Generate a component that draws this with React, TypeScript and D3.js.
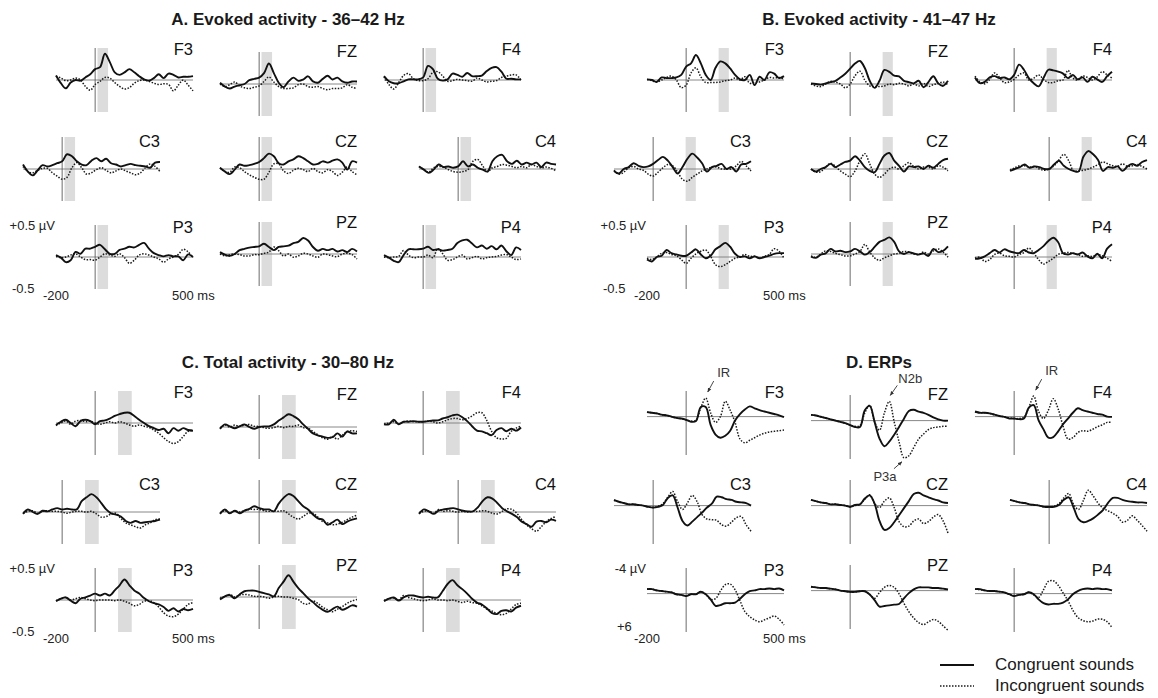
import * as d3 from 'd3';
import React from 'react';

// time axis (ms) shared by every trace
const TIMES = [-200, -175, -150, -125, -100, -75, -50, -25, 0, 25, 50, 75, 100, 125, 150, 175, 200, 225, 250, 275, 300, 325, 350, 375, 400, 425, 450, 475, 500];

// A. Evoked activity 36-42 Hz (µV)
const A_F3_con = [0.07, -0.05, -0.13, -0.04, 0, -0.01, 0.04, 0.09, 0.17, 0.2, 0.41, 0.28, 0.12, 0.08, 0.12, 0.17, 0.12, 0.06, 0.01, -0.01, 0.03, 0.09, 0.03, 0.1, 0.08, 0.04, 0.05, 0.05, 0.06];
const A_F3_inc = [0.06, 0.03, -0.01, 0, 0.03, 0, -0.1, -0.16, -0.07, -0.02, 0.04, 0.03, -0.04, -0.1, -0.14, -0.12, -0.05, -0.01, 0, -0.02, -0.05, -0.07, -0.06, -0.07, -0.17, -0.08, 0, -0.08, -0.17];
const A_FZ_con = [0.02, -0.04, -0.07, -0.04, -0.02, 0, 0.06, 0.08, 0.1, 0.17, 0.32, 0.17, 0.02, -0.05, 0.04, 0.1, 0.05, 0.07, 0.12, 0.04, 0.02, 0.08, 0.13, 0.07, 0.1, 0.04, 0.02, 0.04, 0.04];
const A_FZ_inc = [0, -0.04, -0.01, 0.03, -0.03, -0.06, -0.07, -0.05, -0.03, 0.04, 0.11, 0.03, -0.04, -0.07, -0.07, -0.06, -0.01, 0, -0.04, -0.05, -0.04, -0.07, -0.09, -0.07, -0.07, -0.06, -0.01, -0.05, -0.07];
const A_F4_con = [0.06, -0.02, -0.05, -0.05, -0.02, 0.01, 0.01, 0.01, 0.04, 0.22, 0.17, 0.02, -0.01, 0.01, 0.1, 0.08, 0.05, 0.11, 0.06, 0.06, 0.07, 0.14, 0.19, 0.2, 0.13, 0.02, 0.02, 0.01, 0.01];
const A_F4_inc = [0.05, -0.07, -0.14, -0.04, 0.07, 0.1, 0.02, -0.01, -0.01, 0.02, 0.12, 0.13, 0.06, -0.02, -0.01, 0.01, 0, -0.01, -0.02, 0.03, 0, -0.03, -0.02, -0.01, 0.04, 0.06, 0.08, 0.08, 0];
const A_C3_con = [0.07, -0.04, -0.1, -0.02, 0.06, 0.04, 0.06, 0.09, 0.12, 0.23, 0.2, 0.12, 0.07, 0.06, 0.13, 0.17, 0.12, 0.16, 0.09, 0.07, 0.04, 0.06, 0.08, 0.06, 0.05, 0.04, 0.02, 0.1, 0.11];
const A_C3_inc = [0.04, -0.04, -0.06, -0.02, 0.01, 0.01, -0.06, -0.11, -0.16, -0.13, 0.02, 0.1, 0.02, -0.08, -0.06, -0.01, 0.02, -0.02, -0.06, -0.03, 0, -0.03, -0.06, -0.09, -0.06, 0.02, 0.08, 0.04, -0.04];
const A_CZ_con = [0.02, -0.04, -0.08, -0.01, 0.07, 0.05, 0.06, 0.08, 0.11, 0.17, 0.24, 0.2, 0.09, 0.07, 0.12, 0.15, 0.2, 0.17, 0.12, 0.07, 0.08, 0.12, 0.1, 0.13, 0.15, 0.1, -0.01, 0.12, 0.1];
const A_CZ_inc = [0.02, -0.04, -0.05, 0.03, 0.02, -0.04, -0.09, -0.13, -0.16, -0.16, -0.05, 0.08, 0.08, -0.03, -0.07, -0.02, 0.01, -0.01, -0.04, 0.01, -0.04, -0.06, -0.01, -0.04, -0.1, -0.05, 0.03, -0.04, -0.09];
const A_C4_con = [0.04, -0.01, -0.06, -0.01, 0.07, 0.03, 0.04, 0.02, 0.04, 0.12, 0.04, 0.07, 0.02, -0.01, -0.04, 0.12, 0.2, 0.22, 0.12, 0.08, 0.13, 0.07, 0.1, 0.07, 0.1, 0.03, 0.1, 0.08, 0.07];
const A_C4_inc = [0.04, -0.01, -0.05, 0.02, 0.04, 0.03, -0.01, -0.04, -0.05, -0.04, -0.01, 0.12, 0.15, 0.05, -0.04, 0.02, 0.04, 0.07, 0.06, 0.04, 0.02, 0.04, 0.02, 0.07, 0.04, 0.02, 0.03, 0.01, -0.03];
const A_P3_con = [0.03, -0.01, -0.08, -0.05, 0.08, 0.05, 0.13, 0.13, 0.16, 0.19, 0.12, 0.05, 0.05, 0.11, 0.13, 0.16, 0.15, 0.19, 0.22, 0.13, 0.06, 0.03, 0.01, 0.03, 0.01, 0.01, -0.05, 0.04, 0];
const A_P3_inc = [0.01, -0.01, 0, 0.03, 0.05, 0, -0.04, -0.04, -0.05, 0, 0.05, 0.03, 0.01, 0.05, -0.01, -0.1, -0.05, 0.03, 0.05, 0.03, 0, -0.03, -0.08, -0.03, 0, 0.04, 0.12, 0.08, -0.01];
const A_PZ_con = [0.03, -0.01, -0.03, 0, 0.06, 0.08, 0.1, 0.11, 0.12, 0.16, 0.11, 0.06, 0.11, 0.12, 0.13, 0.17, 0.19, 0.25, 0.21, 0.11, 0.05, 0.08, 0.06, 0.08, 0.04, 0.06, 0.03, 0.08, 0.04];
const A_PZ_inc = [0, -0.03, -0.01, 0, -0.01, -0.03, -0.03, -0.01, -0.01, 0.01, 0.03, 0.11, 0.05, -0.03, 0, -0.05, -0.03, 0.01, 0, -0.03, -0.05, 0, -0.01, -0.03, -0.04, 0, 0.01, -0.01, -0.08];
const A_P4_con = [0.03, -0.01, -0.06, -0.08, 0.03, 0.12, 0.12, 0.12, 0.13, 0.16, 0.11, 0.12, 0.1, 0.11, 0.13, 0.22, 0.26, 0.27, 0.21, 0.15, 0.18, 0.13, 0.17, 0.12, 0.18, 0.09, 0.03, 0.15, 0.11];
const A_P4_inc = [0, -0.01, 0, 0.01, 0.1, 0.03, -0.01, 0, 0, 0.03, -0.01, 0.13, 0.05, -0.05, -0.04, 0, 0.03, -0.03, -0.01, 0.01, -0.03, -0.01, 0, 0.01, 0.03, 0.04, 0, -0.04, -0.03];

// B. Evoked activity 41-47 Hz (µV)
const B_F3_con = [0.01, 0, -0.03, 0.04, 0.03, 0.03, 0.04, 0.08, 0.21, 0.26, 0.39, 0.26, 0.08, 0, 0.19, 0.29, 0.26, 0.18, 0.08, 0.01, 0, 0.08, -0.08, 0.05, 0, 0.12, 0.1, 0.03, 0.06];
const B_F3_inc = [0.01, -0.01, -0.03, 0, 0.04, 0.06, 0, -0.12, -0.08, 0.11, 0.19, 0.05, -0.04, -0.04, -0.04, -0.03, -0.01, 0, 0.03, 0, 0.05, -0.05, -0.04, -0.03, 0, 0.04, 0.03, 0.04, 0.01];
const B_FZ_con = [0.01, 0, -0.01, 0.01, 0.03, 0.05, 0.1, 0.16, 0.24, 0.32, 0.36, 0.25, 0.05, -0.06, 0.05, 0.22, 0.19, 0.13, 0.12, 0.05, 0.03, 0.01, 0.05, -0.05, 0.03, 0.12, 0.01, -0.03, 0.05];
const B_FZ_inc = [0, -0.03, -0.04, 0, 0.04, 0.03, 0, -0.06, 0, 0.13, 0.2, 0.06, -0.03, -0.04, -0.04, -0.03, 0, -0.01, 0.01, 0, -0.03, 0, -0.03, 0.01, -0.04, -0.01, 0.01, 0.03, -0.01];
const B_F4_con = [0.04, -0.05, -0.03, 0.04, 0.06, 0.03, 0.04, 0.01, 0.08, 0.24, 0.16, 0.03, -0.05, -0.1, 0.03, 0.16, 0.15, 0.13, 0.1, 0.03, 0.08, 0.01, 0.04, -0.03, 0.05, 0.01, -0.03, 0.06, 0.13];
const B_F4_inc = [0.06, -0.03, -0.06, 0.01, 0.11, 0.04, -0.04, -0.03, 0.01, 0.08, 0.11, 0, 0.03, 0.08, 0.01, -0.04, -0.04, -0.01, 0, 0.15, 0.03, 0, 0.06, 0.04, 0, 0.05, 0.13, 0.08, 0.03];
const B_C3_con = [-0.03, -0.07, 0, 0.03, 0.09, 0.05, 0.03, 0.04, 0.08, 0.14, 0.19, 0.13, 0.03, -0.07, 0.03, 0.16, 0.24, 0.18, 0.09, -0.04, 0.03, 0.05, 0.08, 0, 0.03, -0.04, 0.07, 0.08, 0.12];
const B_C3_inc = [-0.02, -0.08, -0.05, 0.02, 0.04, 0, -0.02, -0.08, -0.11, -0.05, 0.02, 0.07, 0.05, -0.05, -0.16, -0.19, -0.13, -0.08, -0.03, 0, 0.03, 0.03, 0, 0, 0, 0.05, 0.12, 0.05, -0.03];
const B_CZ_con = [0, -0.04, 0, 0.03, 0.08, 0.03, 0.07, 0.11, 0.13, 0.2, 0.13, 0.03, -0.03, -0.05, 0.08, 0.21, 0.25, 0.13, 0.05, -0.04, 0.04, 0.03, 0.04, 0, 0.05, 0.02, 0.08, 0.14, 0.16];
const B_CZ_inc = [0, -0.05, -0.04, 0.03, 0.09, 0.04, -0.03, -0.08, -0.12, -0.03, 0.13, 0.24, 0.08, -0.08, -0.13, -0.08, 0, 0.03, 0, 0.05, 0.1, 0.04, 0, 0.03, 0.03, 0, 0.05, 0.03, -0.03];
const B_C4_con = [-0.03, 0, 0.03, 0.07, 0.02, 0.04, 0.03, 0, 0, 0.07, 0.13, 0.05, 0, -0.03, -0.04, 0.19, 0.28, 0.23, 0.14, -0.03, 0.03, 0.02, 0.04, -0.03, 0.04, 0.08, 0.05, 0.11, 0.14];
const B_C4_inc = [-0.02, 0.02, 0.05, 0.05, 0.03, 0.04, 0, -0.02, 0, 0.05, 0.14, 0.23, 0.13, -0.03, -0.03, -0.02, 0, 0.03, 0.07, 0.11, 0.08, 0.05, 0.04, 0.08, 0.04, 0.05, 0.07, 0.04, 0];
const B_P3_con = [-0.04, -0.07, 0, 0.02, 0.11, 0.06, 0.04, 0.02, 0.02, 0.07, 0.12, 0.04, -0.02, 0.02, 0.12, 0.17, 0.22, 0.16, 0.05, 0, 0.01, -0.02, 0.01, -0.02, 0, 0.02, 0.05, 0.06, 0.06];
const B_P3_inc = [-0.02, -0.04, 0, 0.06, 0.07, 0.04, 0.02, -0.04, -0.1, -0.02, 0.05, 0.09, 0.11, 0.01, -0.12, -0.15, -0.12, -0.07, -0.02, 0, 0.04, 0.01, 0.01, -0.02, 0.01, 0.04, 0.13, 0.09, -0.02];
const B_PZ_con = [-0.04, -0.06, -0.01, 0.01, 0.08, 0.04, 0.05, 0.03, 0.04, 0.08, 0.04, -0.01, 0.03, 0.11, 0.19, 0.22, 0.26, 0.19, 0.04, 0, 0.03, 0.01, -0.01, 0.01, -0.03, 0.08, 0.03, 0.05, 0.12];
const B_PZ_inc = [-0.03, -0.05, 0, 0.05, 0.04, 0.01, -0.01, -0.03, -0.03, 0, 0.04, 0.15, 0.03, -0.06, -0.1, -0.06, -0.03, 0, 0.01, 0.04, 0.03, 0, -0.01, 0.03, 0, 0.05, 0.08, 0.03, -0.05];
const B_P4_con = [-0.03, -0.02, 0.01, 0.06, 0.11, 0.07, 0.12, 0.09, 0.07, 0.06, 0.11, 0.07, 0.06, 0.11, 0.17, 0.25, 0.3, 0.23, 0.06, 0.04, 0.06, 0.04, 0.07, 0.01, -0.02, 0.05, -0.02, 0.13, 0.2];
const B_P4_inc = [-0.02, 0, -0.07, -0.04, 0.04, 0.06, 0.02, 0.01, 0, 0.04, 0.07, 0.14, 0.06, -0.04, -0.11, -0.07, -0.02, 0.04, 0.06, 0.07, 0.06, 0.04, 0.01, 0.02, 0.01, 0.04, 0.02, -0.02, -0.07];

// C. Total activity 30-80 Hz (µV)
const C_F3_con = [-0.03, 0.02, 0.05, 0, -0.05, 0.03, 0.05, 0.03, -0.02, 0.03, 0.04, 0.07, 0.11, 0.14, 0.16, 0.16, 0.11, 0.05, 0, -0.05, -0.08, -0.11, -0.09, -0.16, -0.08, -0.12, -0.08, -0.11, -0.12];
const C_F3_inc = [-0.04, 0, 0.03, -0.02, 0.03, 0.04, 0.02, 0.03, 0, -0.02, 0, 0.02, 0, 0.02, 0, -0.03, -0.05, -0.03, -0.05, -0.07, -0.11, -0.16, -0.23, -0.29, -0.32, -0.29, -0.21, -0.13, -0.11];
const C_FZ_con = [-0.03, 0.04, 0.01, -0.02, 0.01, 0.04, 0, -0.03, 0, 0.01, 0.01, 0.04, 0.1, 0.15, 0.2, 0.17, 0.12, 0.04, -0.03, -0.1, -0.13, -0.15, -0.17, -0.16, -0.1, -0.15, -0.07, -0.1, -0.1];
const C_FZ_inc = [-0.02, 0.03, 0, 0.03, 0.01, 0.03, 0.04, 0.01, 0.01, -0.01, -0.02, -0.01, 0.01, -0.01, 0.01, 0.01, 0.03, -0.01, -0.02, -0.07, -0.12, -0.17, -0.19, -0.15, -0.19, -0.13, -0.07, -0.06, -0.07];
const C_F4_con = [-0.02, -0.02, 0.05, -0.02, 0.02, 0.02, 0.03, 0.02, 0.02, 0.03, 0.04, 0.04, 0.07, 0.09, 0.12, 0.13, 0.09, 0.03, -0.05, -0.12, -0.13, -0.16, -0.19, -0.11, -0.08, -0.13, -0.09, -0.12, -0.07];
const C_F4_inc = [-0.02, 0, 0.02, -0.02, 0.02, 0.03, 0.02, 0.02, 0.02, 0.03, 0.02, 0, 0.02, 0.05, 0.07, 0.07, 0.05, 0.07, 0.11, 0.16, 0.16, 0.04, -0.13, -0.23, -0.25, -0.24, -0.13, -0.08, -0.05];
const C_C3_con = [-0.03, 0.04, 0, -0.03, 0.02, 0.01, 0.04, 0.06, 0.04, 0.05, 0.04, 0.04, 0.17, 0.23, 0.28, 0.23, 0.14, 0.04, -0.02, -0.04, -0.07, -0.14, -0.17, -0.14, -0.17, -0.16, -0.15, -0.14, -0.12];
const C_C3_inc = [-0.02, 0.01, 0.02, -0.02, 0.01, 0.02, 0.01, 0.01, 0, -0.02, 0, 0.01, 0.01, 0, 0.01, -0.03, -0.08, -0.07, -0.03, -0.02, -0.1, -0.17, -0.2, -0.23, -0.25, -0.2, -0.17, -0.12, -0.11];
const C_CZ_con = [-0.03, 0.04, -0.02, 0.02, -0.02, 0.02, 0.05, 0.09, 0.06, 0.04, 0.04, 0.01, 0.13, 0.22, 0.28, 0.25, 0.17, 0.09, 0.04, -0.04, -0.1, -0.12, -0.2, -0.16, -0.12, -0.19, -0.15, -0.12, -0.1];
const C_CZ_inc = [-0.02, 0.02, -0.02, 0.02, 0, 0.02, 0.04, 0.04, 0.04, 0.02, 0.01, 0.02, 0.01, 0.02, -0.03, -0.08, -0.11, -0.07, -0.02, -0.02, -0.08, -0.15, -0.17, -0.2, -0.19, -0.16, -0.12, -0.08, -0.05];
const C_C4_con = [-0.03, 0.04, 0.01, -0.03, 0.02, 0.04, 0.05, 0.06, 0.04, 0.02, 0.01, 0.01, 0.07, 0.17, 0.23, 0.21, 0.14, 0.06, 0.01, -0.03, -0.08, -0.15, -0.19, -0.23, -0.15, -0.14, -0.16, -0.12, -0.14];
const C_C4_inc = [-0.02, 0.01, 0.02, -0.02, 0.04, 0.01, 0.02, 0.01, 0, 0.01, 0, 0.01, 0.01, 0.02, 0.01, -0.02, -0.03, 0.01, 0.05, 0.04, -0.02, -0.12, -0.2, -0.26, -0.3, -0.23, -0.15, -0.1, -0.07];
const C_P3_con = [-0.02, 0.02, 0.04, -0.01, -0.05, 0.02, 0.04, 0.07, 0.1, 0.07, 0.1, 0.07, 0.15, 0.23, 0.32, 0.23, 0.15, 0.1, 0.03, -0.02, -0.05, -0.07, -0.11, -0.17, -0.13, -0.18, -0.14, -0.16, -0.14];
const C_P3_inc = [-0.01, 0.02, 0.04, 0, 0.02, 0.04, 0.02, 0, -0.01, 0, 0, 0, -0.01, 0, -0.02, -0.05, -0.09, -0.07, -0.02, -0.01, -0.04, -0.11, -0.2, -0.25, -0.26, -0.22, -0.14, -0.07, -0.04];
const C_PZ_con = [-0.04, 0.01, 0.03, -0.02, 0.04, 0.09, 0.1, 0.1, 0.08, 0.06, 0.04, 0.01, 0.14, 0.24, 0.34, 0.24, 0.14, 0.06, -0.02, -0.08, -0.15, -0.2, -0.23, -0.19, -0.15, -0.2, -0.17, -0.13, -0.15];
const C_PZ_inc = [-0.02, 0.01, 0.04, 0, 0.03, 0.04, 0.03, 0.01, 0.01, 0, -0.02, 0, 0.01, 0, 0, -0.02, -0.04, -0.1, -0.11, -0.06, -0.1, -0.16, -0.2, -0.23, -0.19, -0.15, -0.1, -0.06, -0.04];
const C_P4_con = [-0.02, 0.02, 0.04, -0.01, 0.04, 0.07, 0.07, 0.05, 0.04, 0.05, 0.04, 0.04, 0.14, 0.25, 0.31, 0.23, 0.17, 0.1, 0.02, -0.04, -0.07, -0.13, -0.2, -0.22, -0.17, -0.16, -0.18, -0.12, -0.09];
const C_P4_inc = [-0.01, 0.02, 0.03, 0, 0.07, 0.04, 0.02, 0, -0.01, 0, 0.02, 0, 0, -0.01, 0, -0.02, -0.04, -0.02, -0.04, -0.05, -0.09, -0.14, -0.17, -0.21, -0.23, -0.21, -0.14, -0.07, -0.05];

// D. ERPs (µV, negative up)
const D_F3_con = [-0.7, -0.6, -0.5, -0.3, -0.2, 0, 0.2, 0.3, 0.5, 0.8, 0.7, -1.5, -1.5, 1.3, 2.8, 3.3, 3.0, 2.2, 0.6, -0.4, -1.1, -1.6, -1.3, -1.0, -0.8, -0.6, -0.4, -0.2, 0.1];
const D_F3_inc = [-0.7, -0.6, -0.5, -0.3, -0.2, 0, 0.2, 0.3, 0.5, 0.7, 0.6, -1.4, -2.9, -0.6, 0.9, 0, -2.4, -1.0, 0.9, 3.5, 4.1, 3.7, 3.3, 2.9, 2.6, 2.4, 2.3, 2.2, 2.1];
const D_FZ_con = [-0.9, -0.8, -0.6, -0.4, -0.2, 0, 0.2, 0.4, 0.7, 1.0, 1.0, -1.6, -2.3, 0.2, 2.8, 4.0, 3.3, 2.2, 1.0, -0.3, -1.5, -1.7, -1.4, -1.2, -0.9, -0.5, -0.2, 0, 0];
const D_FZ_inc = [-0.9, -0.8, -0.6, -0.4, -0.2, 0, 0.2, 0.4, 0.7, 0.9, 0.8, -1.2, -2.4, 0.2, 1.5, -1.2, -3.0, 0.2, 3.3, 5.8, 5.5, 4.2, 2.9, 2.1, 1.4, 1.1, 1.0, 0.9, 0.9];
const D_F4_con = [-0.8, -0.6, -0.6, -0.5, -0.3, -0.1, 0.05, 0.3, 0.3, 0.4, 0.3, -1.4, -1.8, 0.6, 2.0, 3.3, 3.2, 2.3, 1.2, 0.3, -0.6, -1.3, -1.0, -0.8, -0.6, -0.4, -0.3, 0, 0.05];
const D_F4_inc = [-0.7, -0.6, -0.6, -0.5, -0.3, -0.1, 0.05, 0.2, 0.3, 0.3, 0.1, -1.4, -3.2, -0.8, 0.3, -1.0, -2.8, -1.2, 1.5, 3.5, 3.3, 2.5, 2.2, 2.3, 2.0, 1.6, 1.3, 0.9, 0.9];
const D_C3_con = [-0.9, -0.6, -0.4, -0.2, -0.2, -0.1, 0, 0.2, 0.3, 0.2, -0.1, -1.2, -1.6, 0.3, 2.4, 3.1, 2.5, 1.8, 1.1, 0.3, -0.3, -1.4, -1.3, -1.0, -0.9, -0.6, -0.5, -0.4, 0];
const D_C3_inc = [-0.8, -0.6, -0.4, -0.2, -0.2, -0.1, 0, 0.2, 0.3, 0.1, -0.3, -1.3, -2.2, -0.6, 0.6, -0.4, -1.6, -0.6, 1.4, 2.1, 2.2, 2.3, 3.0, 3.2, 2.6, 1.9, 1.7, 3.0, 4.0];
const D_CZ_con = [-0.9, -0.7, -0.5, -0.4, -0.2, -0.2, -0.1, 0, 0.2, -0.1, -0.2, -1.1, -1.6, -0.3, 2.4, 3.8, 3.5, 2.6, 1.5, 0.4, -0.7, -1.8, -2.0, -1.6, -1.3, -1.0, -0.8, -0.5, -0.4];
const D_CZ_inc = [-0.9, -0.7, -0.5, -0.4, -0.2, -0.2, -0.1, 0, 0.2, 0, -0.2, -1.0, -1.7, -0.3, 0.3, -0.7, -1.2, 0.3, 2.5, 3.3, 3.2, 2.4, 2.1, 2.8, 2.5, 1.8, 1.4, 2.4, 4.3];
const D_C4_con = [-0.9, -0.7, -0.5, -0.4, -0.2, -0.1, 0, 0.2, 0.2, 0.2, -0.1, -0.9, -1.3, 0.3, 2.1, 2.6, 2.4, 2.0, 1.4, 0.7, -0.4, -1.2, -1.2, -0.9, -0.7, -0.6, -0.5, -0.5, -0.4];
const D_C4_inc = [-0.9, -0.7, -0.5, -0.4, -0.2, -0.1, 0, 0.2, 0.2, 0.1, -0.3, -1.2, -1.9, -0.2, 0.6, -0.8, -2.4, -1.5, -0.4, 0.4, 0.8, 1.2, 1.7, 2.6, 2.3, 1.6, 2.3, 3.1, 4.0];
const D_P3_con = [-0.7, -0.7, -0.5, -0.4, -0.3, -0.2, 0.1, 0.2, 0.4, 0.1, 0.1, -0.3, 0.1, 0.9, 1.9, 1.8, 1.5, 1.5, 1.4, 0.8, 0.1, -0.4, -0.5, -0.7, -0.7, -0.8, -0.7, -0.8, -0.5];
const D_P3_inc = [-0.7, -0.7, -0.5, -0.4, -0.3, -0.2, 0.1, 0.2, 0.4, 0.1, 0.1, -0.3, 0.1, 0.9, 0.8, -0.4, -1.4, -1.5, -0.6, 1.1, 2.8, 3.6, 4.1, 4.4, 4.1, 3.8, 3.5, 4.0, 4.9];
const D_PZ_con = [-0.6, -0.5, -0.4, -0.4, -0.3, -0.2, 0, 0.1, 0.2, 0.2, 0.1, 0.1, 0.6, 1.5, 2.5, 2.4, 2.3, 2.2, 2.1, 1.2, 0.4, -0.2, -0.5, -0.5, -0.5, -0.4, -0.4, -0.3, -0.2];
const D_PZ_inc = [-0.6, -0.5, -0.4, -0.4, -0.3, -0.2, 0, 0.1, 0.2, 0.2, 0.1, 0.1, 0.6, 1.2, 0.3, -0.5, -0.8, -0.5, 0.5, 2.0, 3.3, 4.3, 5.0, 5.3, 4.9, 4.5, 4.8, 5.5, 6.2];
const D_P4_con = [-0.7, -0.7, -0.5, -0.4, -0.4, -0.3, -0.2, 0.1, 0.4, 0.2, 0.1, -0.2, 0.1, 0.9, 1.5, 1.7, 1.6, 1.6, 1.4, 0.9, 0.1, -0.4, -0.7, -0.8, -0.7, -0.8, -0.7, -0.7, -0.5];
const D_P4_inc = [-0.7, -0.6, -0.5, -0.4, -0.4, -0.3, -0.2, 0.1, 0.3, 0.2, 0.1, -0.2, 0.2, 0.6, -0.6, -1.9, -2.0, -1.3, -0.1, 1.1, 2.6, 3.7, 4.2, 4.4, 4.3, 4.0, 4.0, 4.4, 5.3];

const ELECTRODES = ['F3', 'FZ', 'F4', 'C3', 'CZ', 'C4', 'P3', 'PZ', 'P4'];

// where each electrode sits inside a panel (top-left panel coords)
const CELLS: Record<string, { x: number; top: number; ly: number }> = {
  F3: { x: 56, top: 48, ly: 55 },
  FZ: { x: 220, top: 52, ly: 57 },
  F4: { x: 384, top: 48, ly: 55 },
  C3: { x: 23, top: 137, ly: 147 },
  CZ: { x: 220, top: 137, ly: 147 },
  C4: { x: 419, top: 137, ly: 147 },
  P3: { x: 56, top: 225, ly: 233 },
  PZ: { x: 220, top: 222, ly: 228 },
  P4: { x: 384, top: 225, ly: 233 },
};
const CELL_W = 137;
const CELL_H = 64;

const PANELS = [
  {
    id: 'A', title: 'A. Evoked activity - 36\u201342 Hz', dx: 0, dy: 0, band: [12, 66], yDomain: [0.5, -0.5],
    topLabel: '+0.5 \u00b5V', bottomLabel: '-0.5', bottomX: 12,
    data: { F3: [A_F3_con, A_F3_inc], FZ: [A_FZ_con, A_FZ_inc], F4: [A_F4_con, A_F4_inc], C3: [A_C3_con, A_C3_inc], CZ: [A_CZ_con, A_CZ_inc], C4: [A_C4_con, A_C4_inc], P3: [A_P3_con, A_P3_inc], PZ: [A_PZ_con, A_PZ_inc], P4: [A_P4_con, A_P4_inc] },
  },
  {
    id: 'B', title: 'B. Evoked activity - 41\u201347 Hz', dx: 591, dy: 0, band: [166, 218], yDomain: [0.5, -0.5],
    topLabel: '+0.5 \u00b5V', bottomLabel: '-0.5', bottomX: 12,
    data: { F3: [B_F3_con, B_F3_inc], FZ: [B_FZ_con, B_FZ_inc], F4: [B_F4_con, B_F4_inc], C3: [B_C3_con, B_C3_inc], CZ: [B_CZ_con, B_CZ_inc], C4: [B_C4_con, B_C4_inc], P3: [B_P3_con, B_P3_inc], PZ: [B_PZ_con, B_PZ_inc], P4: [B_P4_con, B_P4_inc] },
  },
  {
    id: 'C', title: 'C. Total activity - 30\u201380 Hz', dx: 0, dy: 343, band: [117, 187], yDomain: [0.5, -0.5],
    topLabel: '+0.5 \u00b5V', bottomLabel: '-0.5', bottomX: 12,
    data: { F3: [C_F3_con, C_F3_inc], FZ: [C_FZ_con, C_FZ_inc], F4: [C_F4_con, C_F4_inc], C3: [C_C3_con, C_C3_inc], CZ: [C_CZ_con, C_CZ_inc], C4: [C_C4_con, C_C4_inc], P3: [C_P3_con, C_P3_inc], PZ: [C_PZ_con, C_PZ_inc], P4: [C_P4_con, C_P4_inc] },
  },
  {
    id: 'D', title: 'D. ERPs', dx: 591, dy: 343, band: null, yDomain: [-4, 6],
    topLabel: '-4 \u00b5V', bottomLabel: '+6', bottomX: 26,
    data: { F3: [D_F3_con, D_F3_inc], FZ: [D_FZ_con, D_FZ_inc], F4: [D_F4_con, D_F4_inc], C3: [D_C3_con, D_C3_inc], CZ: [D_CZ_con, D_CZ_inc], C4: [D_C4_con, D_C4_inc], P3: [D_P3_con, D_P3_inc], PZ: [D_PZ_con, D_PZ_inc], P4: [D_P4_con, D_P4_inc] },
  },
];

// ERP component labels: arrow points at the incongruent trace at time t
const NOTES = [
  { cell: 'F3', t: 100, label: 'IR', tx: 18, ty: -21, sx: 8, sy: -17, ex: 2, ey: -6 },
  { cell: 'FZ', t: 200, label: 'N2b', tx: 21, ty: -18, sx: 8, sy: -16, ex: 1, ey: -6 },
  { cell: 'F4', t: 100, label: 'IR', tx: 18, ty: -21, sx: 8, sy: -17, ex: 2, ey: -6 },
  { cell: 'FZ', t: 275, label: 'P3a', tx: -19, ty: 23, sx: -10, sy: 11, ex: -2, ey: 4 },
];

const FONT = '"Liberation Sans", Arial, Helvetica, sans-serif';

function Cell({ panel, name }: { panel: any; name: string }) {
  const c = CELLS[name];
  const left = panel.dx + c.x;
  const top = panel.dy + c.top;
  const x = d3.scaleLinear().domain([-200, 500]).range([left, left + CELL_W]);
  const y = d3.scaleLinear().domain(panel.yDomain).range([top, top + CELL_H]);
  const line = d3.line<number>()
    .x((_, i) => x(TIMES[i]))
    .y(d => y(d))
    .curve(d3.curveCatmullRom.alpha(0.5));
  const [con, inc] = panel.data[name];
  return (
    <g>
      {panel.band && (
        <rect x={x(panel.band[0])} y={top} width={x(panel.band[1]) - x(panel.band[0])} height={CELL_H} fill="#dcdcdc" />
      )}
      <line x1={left} x2={left + CELL_W} y1={y(0)} y2={y(0)} stroke="#7a7a7a" strokeWidth={0.9} />
      <line x1={x(0)} x2={x(0)} y1={top} y2={top + CELL_H} stroke="#5a5a5a" strokeWidth={0.9} />
      <path d={line(inc) || ''} fill="none" stroke="#1a1a1a" strokeWidth={1.5} strokeDasharray="1.5 1.5" />
      <path d={line(con) || ''} fill="none" stroke="#111" strokeWidth={1.9} />
      <text x={left + CELL_W} y={panel.dy + c.ly} textAnchor="end" fontSize={16.5} fill="#111">{name}</text>
    </g>
  );
}

export default function App() {
  const dPanel = PANELS[3];
  return (
    <div>
      <style>{'body{margin:0;background:#fff}'}</style>
      <svg width={1158} height={698} style={{ display: 'block', fontFamily: FONT }}>
        <defs>
          <marker id="arr" viewBox="0 0 10 10" refX="9" refY="5" markerWidth="5" markerHeight="5" orient="auto">
            <path d="M0,1 L10,5 L0,9 z" fill="#333" />
          </marker>
        </defs>
        <rect width={1158} height={698} fill="#fff" />
        {PANELS.map(p => (
          <g key={p.id}>
            <text x={p.dx + 288} y={p.dy + 25} textAnchor="middle" fontSize={17} fontWeight="bold" fill="#1a1a1a">{p.title}</text>
            {ELECTRODES.map(e => <Cell key={e} panel={p} name={e} />)}
            <text x={p.dx + 55} y={p.dy + 230} textAnchor="end" fontSize={13} fill="#222">{p.topLabel}</text>
            <text x={p.dx + p.bottomX} y={p.dy + (p.id === 'D' ? 288 : 293)} fontSize={13} fill="#222">{p.bottomLabel}</text>
            <text x={p.dx + 43} y={p.dy + 300} fontSize={13} fill="#222">-200</text>
            <text x={p.dx + 172} y={p.dy + 300} fontSize={13} fill="#222">500 ms</text>
          </g>
        ))}
        {NOTES.map((n, i) => {
          const c = CELLS[n.cell];
          const left = dPanel.dx + c.x;
          const top = dPanel.dy + c.top;
          const x = d3.scaleLinear().domain([-200, 500]).range([left, left + CELL_W]);
          const y = d3.scaleLinear().domain(dPanel.yDomain).range([top, top + CELL_H]);
          const v = (dPanel.data as any)[n.cell][1][TIMES.indexOf(n.t)];
          const px = x(n.t);
          const py = y(v);
          return (
            <g key={i}>
              <line x1={px + n.sx} y1={py + n.sy} x2={px + n.ex} y2={py + n.ey} stroke="#333" strokeWidth={0.9} markerEnd="url(#arr)" />
              <text x={px + n.tx} y={py + n.ty} textAnchor="middle" fontSize={13} fill="#333">{n.label}</text>
            </g>
          );
        })}
        <g>
          <line x1={940} x2={974} y1={665} y2={665} stroke="#111" strokeWidth={1.9} />
          <text x={995} y={670} fontSize={17} fill="#1a1a1a">Congruent sounds</text>
          <line x1={940} x2={974} y1={686} y2={686} stroke="#1a1a1a" strokeWidth={1.5} strokeDasharray="1.5 1.5" />
          <text x={995} y={691} fontSize={17} fill="#1a1a1a">Incongruent sounds</text>
        </g>
      </svg>
    </div>
  );
}
